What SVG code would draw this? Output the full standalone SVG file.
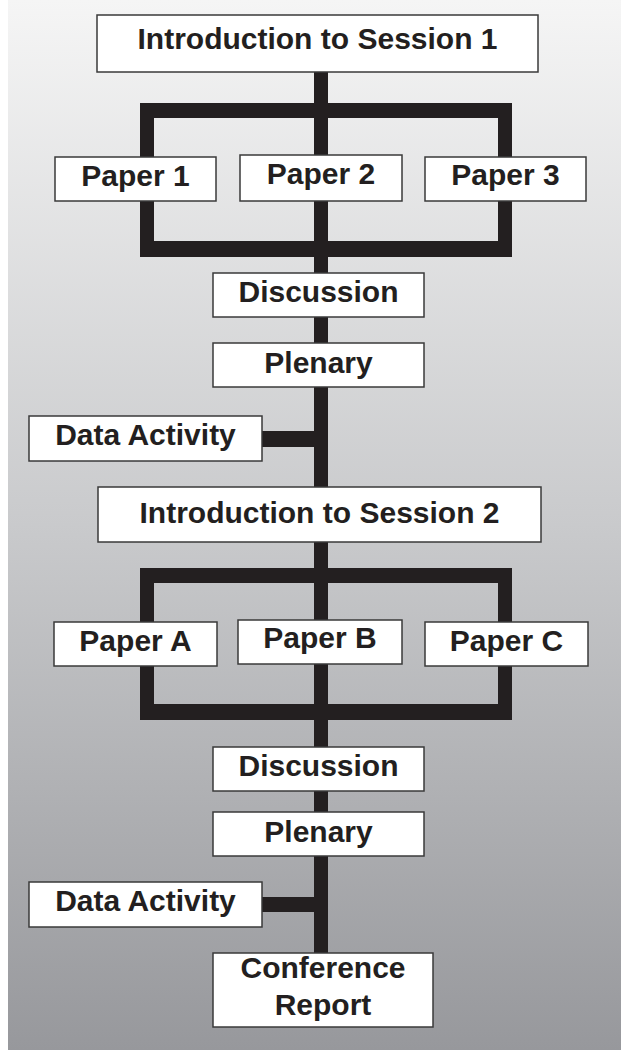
<svg xmlns="http://www.w3.org/2000/svg" width="621" height="1050" viewBox="0 0 621 1050">
  <defs>
    <linearGradient id="bg" x1="0" y1="0" x2="0" y2="1">
      <stop offset="0" stop-color="#f5f5f5"/>
      <stop offset="0.5" stop-color="#c9cacc"/>
      <stop offset="1" stop-color="#97989c"/>
    </linearGradient>
    <style>
      .box { fill: #ffffff; stroke: #3a3a3a; stroke-width: 1.5; }
      .wire { fill: #231f20; }
      .lbl { font-family: "Liberation Sans", Arial, Helvetica, sans-serif; font-weight: bold; font-size: 30px; fill: #231f20; text-anchor: middle; }
    </style>
  </defs>
  <rect x="0" y="0" width="621" height="1050" fill="#ffffff"/>
  <rect x="8" y="0" width="613" height="1050" fill="url(#bg)"/>

  <g id="connectors">
    <rect class="wire" x="314" y="72" width="14" height="881"/>
    <!-- session 1 branch -->
    <rect class="wire" x="140" y="103" width="372" height="15"/>
    <rect class="wire" x="140" y="103" width="14" height="154"/>
    <rect class="wire" x="498" y="103" width="14" height="154"/>
    <rect class="wire" x="140" y="241" width="372" height="16"/>
    <!-- data activity 1 -->
    <rect class="wire" x="262" y="431" width="52" height="16"/>
    <!-- session 2 branch -->
    <rect class="wire" x="140" y="568" width="372" height="15"/>
    <rect class="wire" x="140" y="568" width="14" height="152"/>
    <rect class="wire" x="498" y="568" width="14" height="152"/>
    <rect class="wire" x="140" y="704" width="372" height="16"/>
    <!-- data activity 2 -->
    <rect class="wire" x="262" y="897" width="52" height="15"/>
  </g>

  <g id="intro1"><rect class="box" x="97" y="15" width="441" height="57"/><text class="lbl" x="317.5" y="49">Introduction to Session 1</text></g>
  <g id="paper1"><rect class="box" x="55" y="157" width="161" height="44"/><text class="lbl" x="135.5" y="186">Paper 1</text></g>
  <g id="paper2"><rect class="box" x="240" y="155" width="162" height="46"/><text class="lbl" x="321" y="184">Paper 2</text></g>
  <g id="paper3"><rect class="box" x="425" y="157" width="161" height="44"/><text class="lbl" x="505.5" y="185">Paper 3</text></g>
  <g id="discussion1"><rect class="box" x="213" y="273" width="211" height="44"/><text class="lbl" x="318.5" y="302">Discussion</text></g>
  <g id="plenary1"><rect class="box" x="213" y="343" width="211" height="44"/><text class="lbl" x="318.5" y="373">Plenary</text></g>
  <g id="data1"><rect class="box" x="29" y="416" width="233" height="45"/><text class="lbl" x="145.5" y="445">Data Activity</text></g>
  <g id="intro2"><rect class="box" x="98" y="487" width="443" height="55"/><text class="lbl" x="319.5" y="523">Introduction to Session 2</text></g>
  <g id="paperA"><rect class="box" x="54" y="622" width="163" height="44"/><text class="lbl" x="135.5" y="651">Paper A</text></g>
  <g id="paperB"><rect class="box" x="238" y="620" width="164" height="44"/><text class="lbl" x="320" y="648">Paper B</text></g>
  <g id="paperC"><rect class="box" x="425" y="622" width="163" height="44"/><text class="lbl" x="506.5" y="651">Paper C</text></g>
  <g id="discussion2"><rect class="box" x="213" y="747" width="211" height="44"/><text class="lbl" x="318.5" y="776">Discussion</text></g>
  <g id="plenary2"><rect class="box" x="213" y="812" width="211" height="44"/><text class="lbl" x="318.5" y="842">Plenary</text></g>
  <g id="data2"><rect class="box" x="29" y="882" width="233" height="45"/><text class="lbl" x="145.5" y="911">Data Activity</text></g>
  <g id="report"><rect class="box" x="213" y="953" width="220" height="74"/><text class="lbl" x="323" y="978">Conference</text><text class="lbl" x="323" y="1015">Report</text></g>
</svg>
